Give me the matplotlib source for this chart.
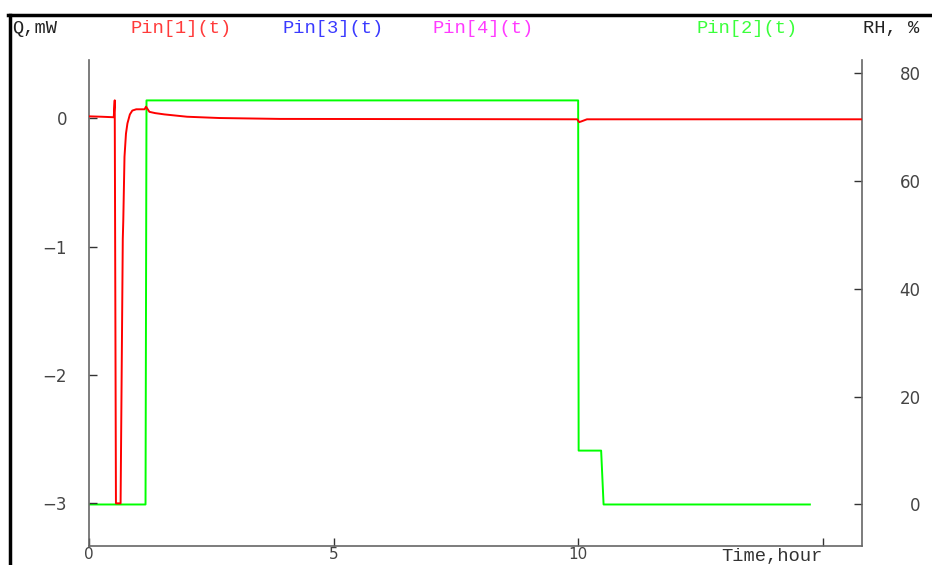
import matplotlib
matplotlib.use("Agg")
import matplotlib.pyplot as plt
from matplotlib.lines import Line2D

# Pin[1](t): heat flow, mW (left axis)
t_q = [0.0, 0.25, 0.5, 0.52, 0.545, 0.64, 0.685, 0.695, 0.72, 0.75, 0.78, 0.83,
       0.88, 0.96, 1.13, 1.16, 1.23, 1.35, 1.54, 2.0, 2.66, 3.9, 6.0, 9.98,
       10.02, 10.06, 10.18, 15.8]
q = [0.015, 0.012, 0.008, 0.14, -3.0, -3.0, -0.94, -0.8, -0.30, -0.12, -0.04, 0.03,
     0.06, 0.07, 0.07, 0.09, 0.05, 0.04, 0.03, 0.012, 0.002, -0.005, -0.006, -0.008,
     -0.03, -0.025, -0.008, -0.008]

# Pin[2](t): relative humidity, % (right axis)
t_rh = [0.0, 1.15, 1.17, 10.0, 10.01, 10.47, 10.52, 14.74]
rh = [0.0, 0.0, 75.0, 75.0, 10.0, 10.0, 0.0, 0.0]

q_ticks = [0, -1, -2, -3]
rh_ticks = [0, 20, 40, 60, 80]
t_ticks = [0, 5, 10, 15]
t_labels = ["0", "5", "10", ""]

legend_items = [("Q,mW", "#222222", 12), ("Pin[1](t)", "#ff3a3a", 131),
                ("Pin[3](t)", "#3a3aff", 282), ("Pin[4](t)", "#ff3aff", 432),
                ("Pin[2](t)", "#3aff3a", 696), ("RH, %", "#222222", 863)]

W, H = 932, 565
fig = plt.figure(figsize=(W / 100, H / 100), dpi=100)
ax = fig.add_axes([89.3 / W, 1 - 545.7 / H, (861.7 - 89.3) / W, (545.7 - 60) / H])
ax2 = ax.twinx()

spine_col = "#666666"
ax.plot(t_q, q, color="#ff0000", lw=1.4, zorder=3)
ax2.plot(t_rh, rh, color="#00ff00", lw=1.4)
ax.set_zorder(ax2.get_zorder() + 1)
ax.patch.set_visible(False)

ax.set_xlim(0, 15.8)
ax.set_ylim(-3.33, 0.454)
ax2.set_ylim(-7.65, 82.5)

ax.set_xticks(t_ticks)
ax.set_xticklabels(t_labels)
ax.set_yticks(q_ticks)
ax2.set_yticks(rh_ticks)

for a in (ax, ax2):
    for s in a.spines.values():
        s.set_color(spine_col)
        s.set_linewidth(1.2)
    a.spines["top"].set_visible(False)
    for lab in a.get_yticklabels():
        lab.set_family("DejaVu Sans")
        lab.set_fontsize(12)
        lab.set_color("#444444")
for lab in ax.get_xticklabels():
    lab.set_family("DejaVu Sans")
    lab.set_fontsize(11)
    lab.set_color("#444444")

ax.spines["right"].set_visible(False)
ax2.spines["left"].set_visible(False)
ax2.spines["bottom"].set_visible(False)
ax.tick_params(axis="y", direction="in", length=6, width=1, color="#333333", pad=16)
ax.tick_params(axis="x", direction="in", length=6, width=1, color="#333333", pad=1)
ax2.tick_params(axis="y", direction="in", length=6, width=1, color="#333333", pad=42.5)
for lab in ax2.get_yticklabels():
    lab.set_horizontalalignment("right")

for text, col, x in legend_items:
    fig.text(x / W, 1 - 33 / H, text, color=col, family="Liberation Mono",
             fontsize=13.5, va="baseline", ha="left")
fig.text(721 / W, 1 - 561.5 / H, "Time,hour", color="#333333", family="Liberation Mono",
         fontsize=13.5, va="baseline", ha="left")

# frame lines at top and left of the window
fig.add_artist(Line2D([8 / W, 1], [1 - 15 / H, 1 - 15 / H], color="black", lw=2.5))
fig.add_artist(Line2D([9.5 / W, 9.5 / W], [1 - 15 / H, 0], color="black", lw=2.5))

fig.savefig("out.png", dpi=100)
